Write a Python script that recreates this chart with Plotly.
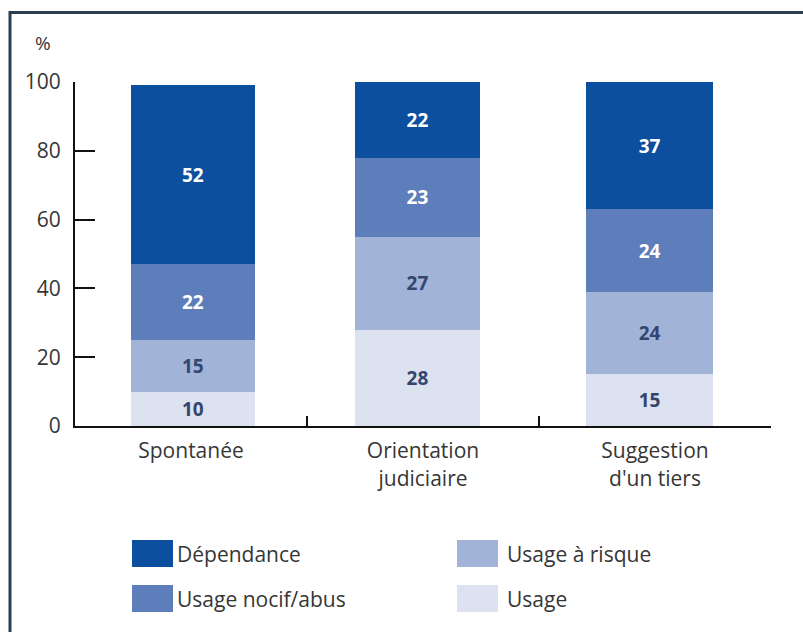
import plotly.graph_objects as go

# Motif de la demande de consultation
categories = ["Spontanée", "Orientation<br>judiciaire", "Suggestion<br>d'un tiers"]

# Répartition (%) selon le type de consommation
usage = [10, 28, 15]
usage_risque = [15, 27, 24]
usage_nocif = [22, 23, 24]
dependance = [52, 22, 37]

series = [
    ("Usage", usage, "#dde2f0", "#34456e"),
    ("Usage à risque", usage_risque, "#a2b3d8", "#34456e"),
    ("Usage nocif/abus", usage_nocif, "#5e7dbb", "#ffffff"),
    ("Dépendance", dependance, "#0b4f9e", "#ffffff"),
]

y_ticks = [0, 20, 40, 60, 80, 100]

W, H = 803, 632
ML, MR, MT, MB = 75, 32, 82, 206
PW, PH = W - ML - MR, H - MT - MB

# placement des colonnes dans chaque catégorie
BAR_W = [0.534, 0.539, 0.547]
BAR_OFF = [-0.259, -0.293, -0.297]


def px(x):
    return (x - ML) / PW


def py(y):
    return (H - MB - y) / PH


FONT = "Open Sans"
TXT = "#363636"
FS = 21

fig = go.Figure()
for name, vals, color, tcolor in series:
    fig.add_trace(go.Bar(
        x=categories, y=vals, name=name,
        marker=dict(color=color, line=dict(width=0)),
        width=BAR_W, offset=BAR_OFF,
        text=vals, texttemplate="%{text}",
        textposition="inside", insidetextanchor="middle",
        textangle=0, constraintext="none",
        textfont=dict(family=FONT, size=19, color=tcolor, weight="bold"),
        showlegend=False,
    ))

shapes = []
annotations = []

# Cadre
shapes.append(dict(type="line", xref="paper", yref="paper",
                   x0=px(9), x1=px(W), y0=py(12.5), y1=py(12.5),
                   line=dict(color="#2b3e4f", width=3)))
shapes.append(dict(type="line", xref="paper", yref="paper",
                   x0=px(10), x1=px(10), y0=py(11), y1=py(H),
                   line=dict(color="#2b3e4f", width=3)))

# Unité de l'axe
annotations.append(dict(text="%", xref="paper", yref="paper",
                        x=px(43), y=py(43), showarrow=False,
                        xanchor="center", yanchor="middle",
                        font=dict(family=FONT, size=19, color=TXT)))

# Légende en deux colonnes
legend_order = [series[3], series[2], series[1], series[0]]
cols = [(132, 175), (457, 505)]
rows = [(540, 567), (585, 612)]
for i, (name, _, color, _) in enumerate(legend_order):
    c, r = cols[i // 2], rows[i % 2]
    sx0, tx = c
    sy0, sy1 = r
    shapes.append(dict(type="rect", xref="paper", yref="paper",
                       x0=px(sx0), x1=px(sx0 + 41), y0=py(sy1), y1=py(sy0),
                       fillcolor=color, line=dict(width=0)))
    annotations.append(dict(text=name, xref="paper", yref="paper",
                            x=px(tx), y=py((sy0 + sy1) / 2), showarrow=False,
                            xanchor="left", yanchor="middle",
                            font=dict(family=FONT, size=FS, color=TXT)))

fig.update_layout(
    width=W, height=H,
    margin=dict(l=ML, r=MR, t=MT, b=MB, pad=0),
    barmode="stack",
    paper_bgcolor="#ffffff", plot_bgcolor="#ffffff",
    font=dict(family=FONT, size=FS, color=TXT),
    shapes=shapes, annotations=annotations,
    xaxis=dict(
        showline=True, linecolor="#111111", linewidth=2,
        ticks="inside", ticklen=10, tickwidth=2, tickcolor="#111111",
        tickson="boundaries", showgrid=False, layer="below traces",
        range=[-0.5, 2.5], tickfont=dict(family=FONT, size=FS, color=TXT),
        ticklabelstandoff=5,
        fixedrange=True,
    ),
    yaxis=dict(
        range=[0, 100], tickvals=y_ticks,
        showline=True, linecolor="#111111", linewidth=2,
        ticks="inside", ticklen=20, tickwidth=2, tickcolor="#111111",
        showgrid=False, zeroline=False, layer="below traces",
        ticklabelstandoff=8,
        tickfont=dict(family=FONT, size=FS, color=TXT),
    ),
)

fig.write_html("out.html")
